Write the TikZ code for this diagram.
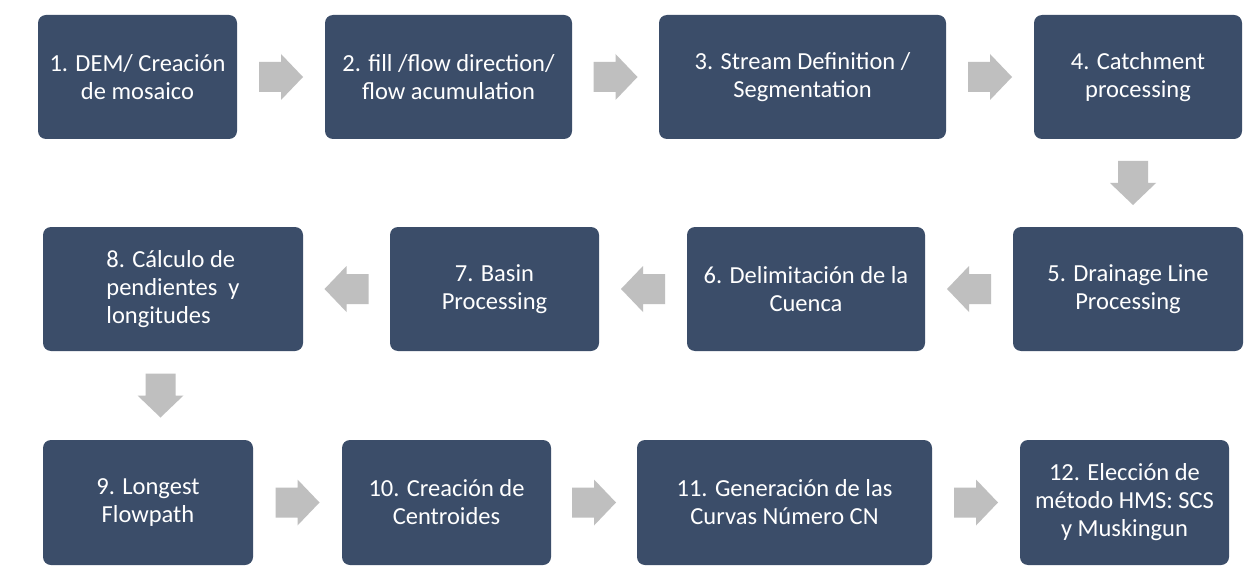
\documentclass[tikz,border=0pt]{standalone}
\usepackage{fontspec}
\setmainfont{Carlito}
\usetikzlibrary{calc}
\definecolor{boxblue}{HTML}{3B4D69}
\definecolor{arrowgray}{HTML}{BFBFBF}
\begin{document}
\begin{tikzpicture}[x=1pt,y=-1pt,
  stepbox/.style={draw=none, fill=boxblue, rounded corners=8pt, text=white,
    font=\fontsize{24.5}{28}\selectfont, align=center, inner sep=0pt},
  garrow/.pic={\fill[arrowgray] (-22,-15) -- (0,-15) -- (0,-23) -- (22,0) -- (0,23) -- (0,15) -- (-22,15) -- cycle;}]
\useasboundingbox[fill=white] (0,0) rectangle (1244,572);
% row 1
\node[stepbox, minimum width=199pt, minimum height=124pt] (b1) at (137.5,77) {1. DEM/ Creación\\de mosaico};
\node[stepbox, minimum width=247pt, minimum height=124pt] (b2) at (448.5,77) {2. fill /flow direction/\\flow acumulation};
\node[stepbox, minimum width=287pt, minimum height=124pt] (b3) at (802.5,77) {3. Stream Definition /\\Segmentation};
\node[stepbox, minimum width=208pt, minimum height=124pt] (b4) at (1138,77) {4. Catchment\\processing};
% row 2
\node[stepbox, minimum width=230pt, minimum height=124pt] (b5) at (1128,289) {5. Drainage Line\\Processing};
\node[stepbox, minimum width=238pt, minimum height=124pt] (b6) at (806,289) {6. Delimitación de la\\Cuenca};
\node[stepbox, minimum width=209pt, minimum height=124pt] (b7) at (494.5,289) {7. Basin\\Processing};
\node[stepbox, minimum width=260pt, minimum height=124pt, align=left] (b8) at (173,289) {8. Cálculo de\\pendientes\ \ y\\longitudes};
% row 3
\node[stepbox, minimum width=210pt, minimum height=125pt] (b9) at (148,502.5) {9. Longest\\Flowpath};
\node[stepbox, minimum width=209pt, minimum height=125pt] (b10) at (446.5,502.5) {10. Creación de\\Centroides};
\node[stepbox, minimum width=295pt, minimum height=125pt] (b11) at (784.5,502.5) {11. Generación de las\\Curvas Número CN};
\node[stepbox, minimum width=209pt, minimum height=125pt] (b12) at (1124.5,502.5) {12. Elección de\\método HMS: SCS\\y Muskingun};
% arrows
\path ($(b1.east)!0.5!(b2.west)$) pic {garrow};
\path ($(b2.east)!0.5!(b3.west)$) pic {garrow};
\path ($(b3.east)!0.5!(b4.west)$) pic {garrow};
\path ($(b4.south)!0.5!(b5.north)$) pic[rotate=-90] {garrow};
\path ($(b5.west)!0.5!(b6.east)$) pic[rotate=180] {garrow};
\path ($(b6.west)!0.5!(b7.east)$) pic[rotate=180] {garrow};
\path ($(b7.west)!0.5!(b8.east)$) pic[rotate=180] {garrow};
\path ($(b8.south)!0.5!(b9.north)$) pic[rotate=-90] {garrow};
\path ($(b9.east)!0.5!(b10.west)$) pic {garrow};
\path ($(b10.east)!0.5!(b11.west)$) pic {garrow};
\path ($(b11.east)!0.5!(b12.west)$) pic {garrow};
\end{tikzpicture}
\end{document}
